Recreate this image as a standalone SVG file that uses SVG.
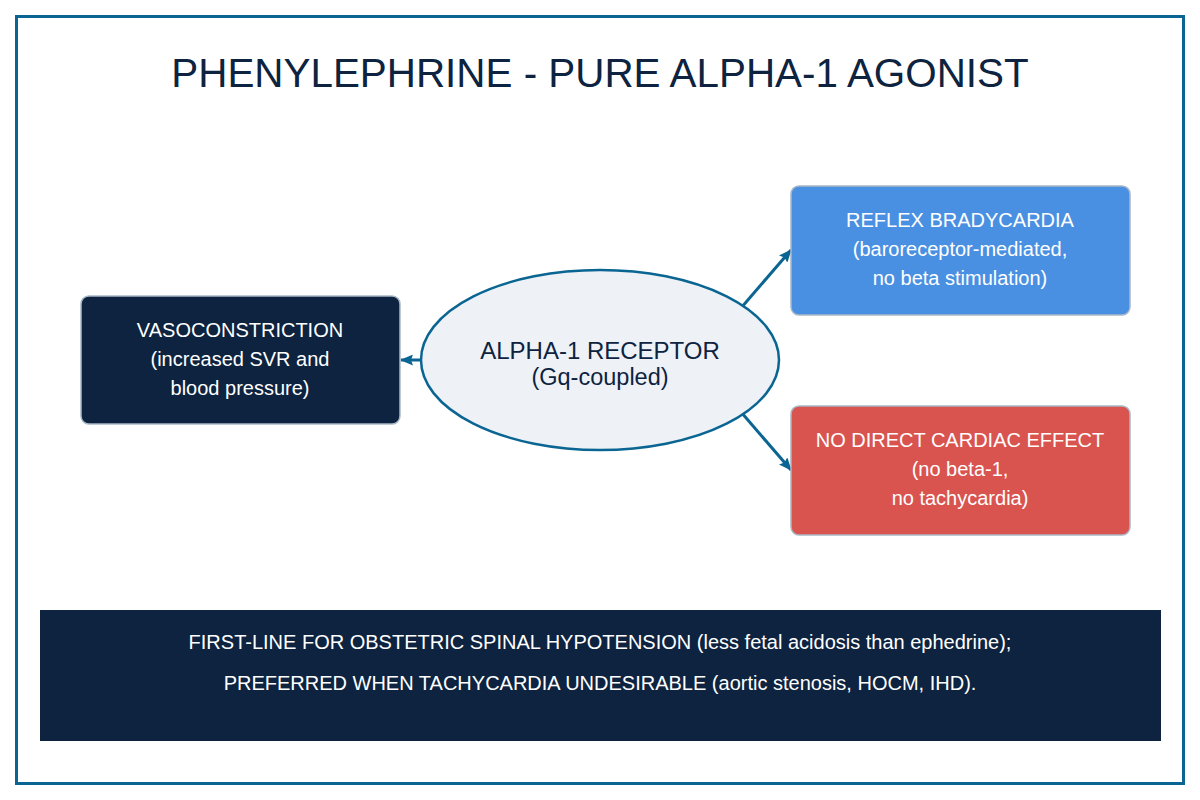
<svg xmlns="http://www.w3.org/2000/svg" width="1200" height="800" viewBox="0 0 1200 800">
<defs>
<style>
text{font-family:"Liberation Sans",Arial,sans-serif;text-anchor:middle}
.box{stroke:#a9b8c6;stroke-width:1.5}
.wt{fill:#ffffff;font-size:20px}
.conn{stroke:#0a6592;stroke-width:3;fill:none}
</style>
<marker id="ah" viewBox="0 0 13 11" refX="12" refY="5.5" markerWidth="13" markerHeight="11" orient="auto" markerUnits="userSpaceOnUse">
<path d="M0,0 L13,5.5 L0,11 L2,5.5 z" fill="#0a6592"/>
</marker>
</defs>
<rect x="0" y="0" width="1200" height="800" fill="#ffffff"/>
<rect x="16.5" y="16.5" width="1167" height="767" fill="none" stroke="#0a6592" stroke-width="3"/>
<text x="600" y="87" font-size="40.4" fill="#0d2340">PHENYLEPHRINE - PURE ALPHA-1 AGONIST</text>
<g id="connectors">
<line class="conn" x1="421" y1="360" x2="401" y2="360" marker-end="url(#ah)"/>
<line class="conn" x1="741" y1="308" x2="791" y2="250" marker-end="url(#ah)"/>
<line class="conn" x1="741" y1="412" x2="791" y2="470" marker-end="url(#ah)"/>
</g>
<g id="receptor">
<ellipse cx="600" cy="360" rx="179" ry="90" fill="#eef2f7" stroke="#0a6592" stroke-width="2.5"/>
<text x="600" y="359" font-size="24" fill="#0d2340">ALPHA-1 RECEPTOR</text>
<text x="600" y="385" font-size="23.5" fill="#0d2340">(Gq-coupled)</text>
</g>
<g id="vasoconstriction">
<rect class="box" x="81" y="296" width="319" height="128" rx="8" fill="#0d2340"/>
<text class="wt" x="240" y="337">VASOCONSTRICTION</text>
<text class="wt" x="240" y="366">(increased SVR and</text>
<text class="wt" x="240" y="395">blood pressure)</text>
</g>
<g id="bradycardia">
<rect class="box" x="791" y="186" width="339" height="129" rx="8" fill="#4a90e2"/>
<text class="wt" x="960" y="227">REFLEX BRADYCARDIA</text>
<text class="wt" x="960" y="256">(baroreceptor-mediated,</text>
<text class="wt" x="960" y="285">no beta stimulation)</text>
</g>
<g id="nocardiac">
<rect class="box" x="791" y="406" width="339" height="129" rx="8" fill="#d9534f"/>
<text class="wt" x="960" y="447">NO DIRECT CARDIAC EFFECT</text>
<text class="wt" x="960" y="476">(no beta-1,</text>
<text class="wt" x="960" y="505">no tachycardia)</text>
</g>
<g id="banner">
<rect x="40" y="610" width="1121" height="131" fill="#0d2340"/>
<text class="wt" x="600" y="649">FIRST-LINE FOR OBSTETRIC SPINAL HYPOTENSION (less fetal acidosis than ephedrine);</text>
<text class="wt" x="600" y="690">PREFERRED WHEN TACHYCARDIA UNDESIRABLE (aortic stenosis, HOCM, IHD).</text>
</g>
</svg>
